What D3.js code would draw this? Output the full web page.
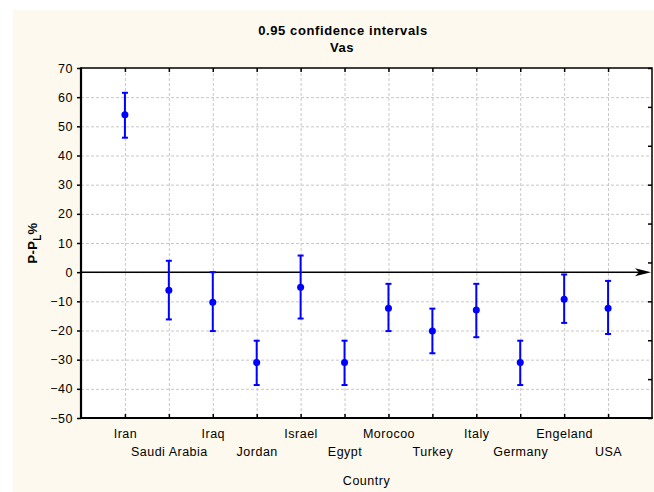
<!DOCTYPE html>
<html>
<head>
<meta charset="utf-8">
<script src="https://cdn.jsdelivr.net/npm/d3@7"></script>
<style>
  body { margin: 0; background: #fff; }
  text { font-family: "Liberation Sans", Arial, sans-serif; fill: #000; }
</style>
</head>
<body>
<div id="chart"></div>
<script>
var countries = ["Iran", "Saudi Arabia", "Iraq", "Jordan", "Israel", "Egypt",
                 "Morocoo", "Turkey", "Italy", "Germany", "Engeland", "USA"];
var means = [54, -6.2, -10.3, -31, -5.2, -31, -12.4, -20.2, -13, -31, -9.3, -12.4];
var upper = [61.5, 3.9, 0, -23.5, 5.7, -23.5, -4, -12.5, -4, -23.5, -0.8, -3];
var lower = [46.1, -16.2, -20.2, -38.7, -15.9, -38.7, -20.2, -27.8, -22.3, -38.7, -17.4, -21.2];
var yTicks = [-50, -40, -30, -20, -10, 0, 10, 20, 30, 40, 50, 60, 70];

var w = 654;
var h = 492;
var plotL = 81, plotR = 652, plotT = 68, plotB = 418;

var svg = d3.select("#chart").append("svg").attr("width", w).attr("height", h);

// cream backdrop, white plot area
svg.append("rect").attr("x", 13).attr("y", 10).attr("width", w - 13).attr("height", h - 10)
  .attr("fill", "#fdf9ef");
svg.append("rect").attr("x", plotL).attr("y", plotT).attr("width", plotR - plotL).attr("height", plotB - plotT)
  .attr("fill", "#fff");

var x = d3.scalePoint().domain(countries).range([plotL, plotR]).padding(1);
var y = d3.scaleLinear().domain([-50, 70]).range([plotB, plotT]);
var yRight = d3.scaleLinear().domain([0, 9]).range([plotB, plotT]);

var data = countries.map(function(c, i) {
  return {name: c, mean: means[i], hi: upper[i], lo: lower[i]};
});

// grid
var grid = svg.append("g").attr("stroke", "#c8c8c8").attr("stroke-dasharray", "3,2").attr("stroke-width", 1);
grid.selectAll("line.h").data(yTicks.filter(function(t) { return t > -50 && t < 70; }))
  .enter().append("line").attr("class", "h")
  .attr("x1", plotL).attr("x2", plotR)
  .attr("y1", function(d) { return y(d) + 0.5; }).attr("y2", function(d) { return y(d) + 0.5; });
grid.selectAll("line.v").data(countries)
  .enter().append("line").attr("class", "v")
  .attr("x1", function(d) { return x(d) + 0.5; }).attr("x2", function(d) { return x(d) + 0.5; })
  .attr("y1", plotT).attr("y2", plotB);

// axes
svg.append("g").attr("transform", "translate(" + plotL + ",0)")
  .call(d3.axisLeft(y).tickValues(yTicks).tickSize(4).tickPadding(4));

var xAxis = svg.append("g").attr("transform", "translate(0," + plotB + ")")
  .call(d3.axisBottom(x).tickSize(-4).tickPadding(11));
xAxis.selectAll(".tick text").attr("y", function(d, i) { return i % 2 ? 29.5 : 11; });

svg.append("g").attr("transform", "translate(0," + plotT + ")")
  .call(d3.axisTop(x).tickSize(-4).tickFormat(""));
svg.append("g").attr("transform", "translate(" + plotR + ",0)")
  .call(d3.axisRight(yRight).ticks(9).tickSize(-4).tickFormat(""));

svg.selectAll(".domain").remove();
svg.selectAll(".tick line").attr("stroke", "#000").attr("stroke-width", 1.5);
svg.selectAll(".tick text")
  .style("font-family", "'Liberation Sans', Arial, sans-serif")
  .style("font-size", "12.5px").style("letter-spacing", "0.5px").attr("fill", "#000");

// frame
svg.append("rect").attr("x", plotL).attr("y", plotT).attr("width", plotR - plotL).attr("height", plotB - plotT)
  .attr("fill", "none").attr("stroke", "#000").attr("stroke-width", 1.5);
svg.append("line").attr("x1", plotL).attr("x2", plotL).attr("y1", plotT - 0.5).attr("y2", plotB + 1)
  .attr("stroke", "#000").attr("stroke-width", 2.2);
svg.append("line").attr("x1", plotL - 1).attr("x2", plotR + 0.75).attr("y1", plotB).attr("y2", plotB)
  .attr("stroke", "#000").attr("stroke-width", 2.2);

// zero line with arrow
var y0 = y(0);
svg.append("line").attr("x1", plotL).attr("x2", plotR - 10).attr("y1", y0).attr("y2", y0)
  .attr("stroke", "#000").attr("stroke-width", 1.5);
svg.append("path")
  .attr("d", "M" + (plotR - 1) + "," + y0 + "L" + (plotR - 17) + "," + (y0 - 4) +
             "L" + (plotR - 13) + "," + y0 + "L" + (plotR - 17) + "," + (y0 + 4) + "Z")
  .attr("fill", "#000");

// error bars
var bars = svg.append("g").selectAll("g.bar").data(data).enter().append("g").attr("class", "bar")
  .attr("stroke", "#0000ff").attr("stroke-width", 2);
bars.append("line")
  .attr("x1", function(d) { return x(d.name); }).attr("x2", function(d) { return x(d.name); })
  .attr("y1", function(d) { return y(d.hi); }).attr("y2", function(d) { return y(d.lo); });
bars.append("line")
  .attr("x1", function(d) { return x(d.name) - 3; }).attr("x2", function(d) { return x(d.name) + 3; })
  .attr("y1", function(d) { return y(d.hi); }).attr("y2", function(d) { return y(d.hi); });
bars.append("line")
  .attr("x1", function(d) { return x(d.name) - 3; }).attr("x2", function(d) { return x(d.name) + 3; })
  .attr("y1", function(d) { return y(d.lo); }).attr("y2", function(d) { return y(d.lo); });
bars.append("circle")
  .attr("cx", function(d) { return x(d.name); }).attr("cy", function(d) { return y(d.mean); })
  .attr("r", 3.5).attr("fill", "#0000ff").attr("stroke", "none");

// titles
svg.append("text").attr("x", 343).attr("y", 35).attr("text-anchor", "middle")
  .style("font-size", "13px").style("font-weight", "bold").style("letter-spacing", "0.6px")
  .text("0.95 confidence intervals");
svg.append("text").attr("x", 342).attr("y", 51.5).attr("text-anchor", "middle")
  .style("font-size", "13px").style("font-weight", "bold").style("letter-spacing", "0.6px")
  .text("Vas");

svg.append("text").attr("x", (plotL + plotR) / 2).attr("y", 485).attr("text-anchor", "middle")
  .style("font-size", "12.5px").style("letter-spacing", "0.5px")
  .text("Country");

var yl = svg.append("text").attr("transform", "translate(37," + ((plotT + plotB) / 2) + ") rotate(-90)")
  .attr("text-anchor", "middle")
  .style("font-size", "13px").style("font-weight", "bold").style("letter-spacing", "0.3px");
yl.append("tspan").text("P-P");
yl.append("tspan").attr("dy", 4).style("font-size", "10px").text("L");
yl.append("tspan").attr("dy", -4).text("%");
</script>
</body>
</html>
